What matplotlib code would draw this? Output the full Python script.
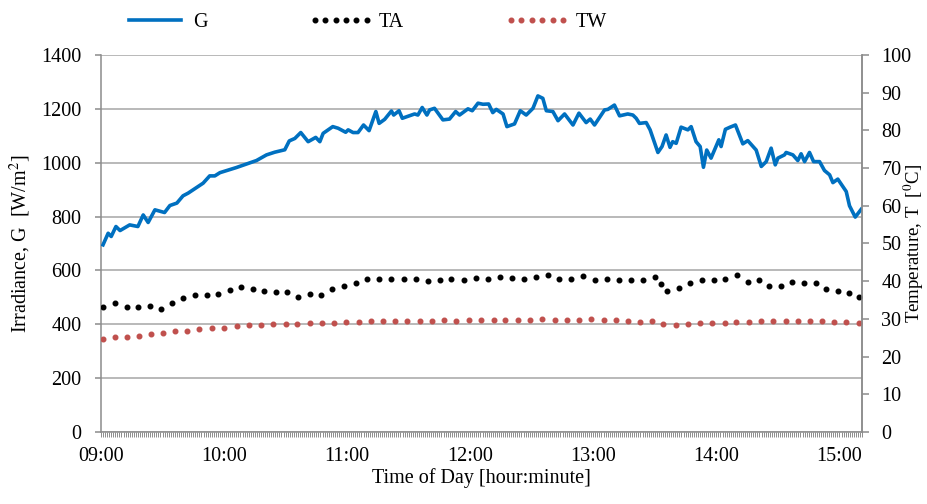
import matplotlib
matplotlib.use("Agg")
import matplotlib.pyplot as plt
from matplotlib.ticker import MultipleLocator, FixedLocator

plt.rcParams['font.family'] = ['Liberation Serif', 'DejaVu Serif']
plt.rcParams['mathtext.fontset'] = 'stix'

# minutes after 09:00
g_min = [1, 3.5, 5, 7.3, 9.3, 14, 18, 20.6, 23, 26.3, 31, 33.6, 37, 40, 42.5, 49.8, 53, 55.5, 58,
         66, 75.8, 80.7, 84.7, 89.6, 91.8, 94.5, 97.4, 101, 104.7, 106.7, 108.3, 113, 115.6, 119.3,
         120.5, 122.9, 125.3, 128, 130.7, 134, 135.6, 138.3, 141.6, 142.7, 145.3, 146.9, 152.9,
         154.5, 156.6, 158.9, 160.2, 162.6, 166.7, 169.9, 172.9, 174.8, 178.9, 181, 183.8, 186.2,
         189, 191, 192.7, 196, 197.9, 201.6, 204.4, 207.3, 210.6, 213, 215.4, 217.1, 220.3, 222.8,
         226, 230.1, 233, 236.5, 238.5, 240.6, 245.5, 247.1, 250.3, 252.8, 256.8, 259.3, 260.9,
         262.5, 265.8, 267.7, 271.5, 273.5, 275.5, 277.4, 278.7, 280.4, 282.8, 286.1, 287.7, 290.1,
         292.1, 293.7, 295.3, 297.4, 301.2, 302.3, 304.4, 306.7, 309.3, 312.9, 315.3, 319.4, 321.9,
         324.3, 326.7, 328.7, 330, 333.2, 334, 337.3, 339.7, 341.3, 343, 345.4, 347.4, 350.3, 352.7,
         355.2, 356.8, 359.2, 363.3, 364.9, 367.7, 370.6]
g_val = [695, 738, 726, 763, 748, 769, 763, 806, 778, 825, 815, 841, 850, 877, 887, 924, 951, 951, 963,
         982, 1008, 1029, 1039, 1048, 1081, 1090, 1112, 1078, 1094, 1078, 1109, 1134, 1128, 1113,
         1122, 1112, 1112, 1140, 1119, 1190, 1146, 1161, 1192, 1177, 1193, 1165, 1181,
         1177, 1205, 1177, 1196, 1202, 1159, 1162, 1190, 1177, 1200, 1193, 1221, 1217,
         1218, 1186, 1198, 1181, 1134, 1144, 1193, 1177, 1202, 1248, 1239, 1193, 1190, 1156,
         1181, 1140, 1184, 1149, 1162, 1140, 1196, 1198, 1214, 1174, 1181, 1177, 1165,
         1146, 1149, 1122, 1038, 1060, 1103, 1057, 1078, 1072, 1132, 1122, 1134, 1078,
         1060, 983, 1047, 1017, 1085, 1060, 1124, 1132, 1140, 1070, 1082, 1047, 986,
         1004, 1054, 992, 1017, 1029, 1038, 1029, 1008, 1033, 1004, 1038, 1004, 1004, 971,
         955, 926, 939, 893, 840, 798, 827]

ta_min = [1.1, 6.8, 12.5, 18.2, 23.9, 29.1, 34.4, 40.1, 45.8, 51.5, 57.1, 62.8, 68.5, 74.2, 79.4,
          85.1, 90.7, 96.1, 101.7, 107.5, 112.8, 118.5, 124.1, 129.7, 135.5, 141.6, 147.5, 153.4,
          159.4, 165.1, 170.8, 176.8, 182.6, 188.6, 194.3, 200.3, 206.2, 211.9, 217.9, 223.5,
          229.3, 235.2, 241.0, 246.6, 252.5, 258.5, 264.2, 270.1, 273.0, 276.0, 281.7, 287.2,
          292.8, 298.7, 304.4, 310.1, 315.3, 321.0, 325.8, 331.5, 336.9, 342.9, 348.6, 353.4,
          359.1, 364.8, 369.4]
ta_val = [33.2, 34.1, 33.2, 33.2, 33.5, 32.6, 34.3, 35.6, 36.4, 36.4, 36.5, 37.7, 38.4, 38.0, 37.3,
          37.2, 37.2, 35.8, 36.7, 36.4, 37.8, 38.6, 39.5, 40.6, 40.5, 40.5, 40.6, 40.5,
          40.0, 40.2, 40.7, 40.4, 40.8, 40.7, 41.2, 40.9, 40.6, 41.0, 41.6, 40.7,
          40.6, 41.3, 40.4, 40.5, 40.4, 40.4, 40.4, 41.1, 39.3, 37.3, 38.2, 39.6,
          40.4, 40.4, 40.6, 41.6, 39.7, 40.4, 38.8, 38.8, 39.9, 39.6, 39.4, 38.0,
          37.4, 36.9, 35.7]

tw_min = [1.1, 6.8, 12.8, 18.7, 24.4, 30.4, 36.1, 42.1, 47.9, 53.9, 60.1, 66.1, 72.1, 78, 84, 90,
          95.8, 101.8, 107.8, 113.6, 119.6, 125.6, 131.5, 137.5, 143.5, 149.3, 155.3, 161.3,
          167.2, 173.2, 179.2, 185.3, 191.4, 197.1, 203.2, 209.2, 214.9, 221.1, 227.1, 233, 239,
          245, 250.9, 256.9, 262.9, 268.7, 273.9, 280.1, 286.1, 291.8, 298, 304, 309.7, 315.8,
          321.8, 327.8, 333.7, 339.7, 345.4, 351.4, 357.2, 363.3, 369.3]
tw_val = [24.6, 25.1, 25.2, 25.4, 26.0, 26.3, 26.7, 26.9, 27.4, 27.5, 27.7, 28.0, 28.3, 28.4, 28.6, 28.7,
          28.7, 28.8, 28.9, 29.0, 29.1, 29.3, 29.4, 29.4, 29.5, 29.5, 29.5, 29.5,
          29.6, 29.5, 29.6, 29.7, 29.8, 29.8, 29.8, 29.8, 29.9, 29.8, 29.7, 29.8, 29.9,
          29.7, 29.6, 29.4, 29.3, 29.4, 28.7, 28.4, 28.6, 28.8, 28.8, 29.0, 29.2, 29.3,
          29.5, 29.5, 29.5, 29.5, 29.5, 29.4, 29.3, 29.2, 28.9]

hour_labels = ['09:00', '10:00', '11:00', '12:00', '13:00', '14:00', '15:00']

fs = 14.5
grey = '#8c8c8c'
fig = plt.figure(figsize=(9.28, 5.04), dpi=100)
ax = fig.add_axes([0.1088, 0.1429, 0.8201, 0.748])
ax2 = ax.twinx()

l1, = ax.plot(g_min, g_val, color='#0070C0', lw=2.6, solid_joinstyle='round', label='G', zorder=3)
l2, = ax2.plot(ta_min, ta_val, ls='none', marker='o', ms=3.3, color='black', label='TA')
l3, = ax2.plot(tw_min, tw_val, ls='none', marker='o', ms=3.3, color='#C0504D', mec='#C0504D', label='TW')

ax.set_xlim(0, 371)
ax.set_ylim(0, 1400)
ax2.set_ylim(0, 100)
ax.yaxis.set_major_locator(MultipleLocator(200))
ax2.yaxis.set_major_locator(MultipleLocator(10))
ax.xaxis.set_major_locator(FixedLocator([60 * i for i in range(len(hour_labels))]))
ax.set_xticklabels(hour_labels)
ax.xaxis.set_minor_locator(MultipleLocator(1))

ax.grid(axis='y', color='#a6a6a6', lw=1.1)
ax.set_axisbelow(True)
for a in (ax, ax2):
    for s in a.spines.values():
        s.set_color(grey)
        s.set_linewidth(1.1)
    a.spines['top'].set_visible(False)
ax2.spines['left'].set_visible(False)
ax2.spines['bottom'].set_visible(False)

ax.tick_params(axis='y', direction='out', length=4, width=1.1, color=grey, pad=10, labelsize=fs)
ax2.tick_params(axis='y', direction='out', length=5, width=1.1, color=grey, pad=9, labelsize=fs)
ax.tick_params(axis='x', which='both', direction='out', length=3.5, width=0.7, color=grey, pad=7, labelsize=fs)

ax.set_ylabel('Irradiance, G  [W/m$^2$]', fontsize=fs, labelpad=6)
ax2.set_ylabel('Temperature, T  [$^0$C]', fontsize=13.5, labelpad=-7)
ax.set_xlabel('Time of Day [hour:minute]', fontsize=fs, labelpad=2)

fig.legend(handles=[l1, l2, l3], loc='center', bbox_to_anchor=(0.393, 0.956), ncol=3, frameon=False,
           fontsize=fs, numpoints=6, handlelength=3.2, handletextpad=0.3, columnspacing=5.0)

fig.savefig('out.png', dpi=100)
